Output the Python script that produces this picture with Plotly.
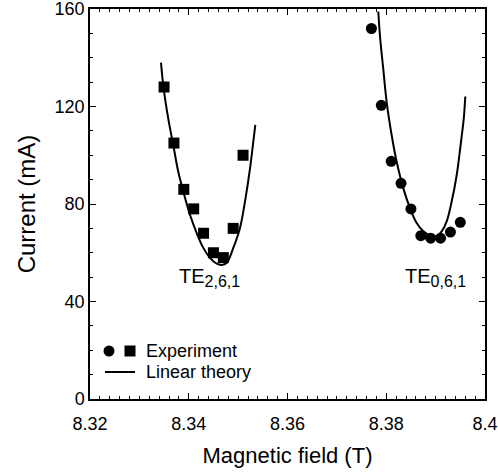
import plotly.graph_objects as go

# Experimental data (Magnetic field in T, current in mA)
field_te261 = [8.335, 8.337, 8.339, 8.341, 8.343, 8.345, 8.347, 8.349, 8.351]
current_te261 = [128, 105, 86, 78, 68, 60, 58, 70, 100]

field_te061 = [8.377, 8.379, 8.381, 8.383, 8.385, 8.387, 8.389, 8.391, 8.393, 8.395]
current_te061 = [152, 120.5, 97.5, 88.5, 78, 67, 66, 66, 68.5, 72.5]

# Linear theory curves
theory_field_261 = [8.33438, 8.33485, 8.33586, 8.33687, 8.33788, 8.33890, 8.34025, 8.34161,
                    8.34295, 8.34430, 8.34566, 8.34667, 8.34769, 8.34902, 8.35038, 8.35139,
                    8.35241, 8.35307, 8.35348]
theory_current_261 = [138.0, 128.5, 114.9, 104.1, 93.2, 85.1, 75.6, 68.1,
                      62.0, 57.9, 55.5, 55.0, 55.9, 62.0, 70.2, 81.0,
                      94.6, 105.5, 112.5]

theory_field_061 = [8.37839, 8.37873, 8.37940, 8.38009, 8.38110, 8.38211, 8.38346, 8.38481,
                    8.38616, 8.38751, 8.38920, 8.39022, 8.39123, 8.39224, 8.39325, 8.39427,
                    8.39514, 8.39569, 8.39601]
theory_current_061 = [159.0, 148.9, 135.3, 121.7, 108.2, 97.3, 86.4, 78.3,
                      72.2, 68.8, 66.8, 66.8, 68.8, 72.9, 81.0, 91.9,
                      105.5, 114.9, 124.1]

mode_labels = ["TE<sub><span style='font-size:16px'>2,6,1</span></sub>",
               "TE<sub><span style='font-size:16px'>0,6,1</span></sub>"]
mode_label_pos = [(8.3443, 50), (8.3899, 50)]

x_ticks = [8.32, 8.34, 8.36, 8.38, 8.40]
x_ticktext = ["8.32", "8.34", "8.36", "8.38", "8.4"]
y_ticks = [0, 40, 80, 120, 160]

FONT = "Liberation Sans, Arial, Helvetica, sans-serif"

fig = go.Figure()

fig.add_trace(go.Scatter(x=theory_field_261, y=theory_current_261, mode="lines",
                         line=dict(color="black", width=2, shape="spline"),
                         showlegend=False, hoverinfo="skip"))
fig.add_trace(go.Scatter(x=theory_field_061, y=theory_current_061, mode="lines",
                         line=dict(color="black", width=2, shape="spline"),
                         showlegend=False, hoverinfo="skip"))
fig.add_trace(go.Scatter(x=field_te261, y=current_te261, mode="markers",
                         marker=dict(symbol="square", size=11, color="black"),
                         showlegend=False))
fig.add_trace(go.Scatter(x=field_te061, y=current_te061, mode="markers",
                         marker=dict(symbol="circle", size=11, color="black"),
                         showlegend=False))

for txt, (xa, ya) in zip(mode_labels, mode_label_pos):
    fig.add_annotation(x=xa, y=ya, text=txt, showarrow=False, xanchor="center",
                       yanchor="middle", font=dict(size=20, color="black", family=FONT))

# Manual legend (layout decoration in paper coordinates)
TOP, BOT, LEFT, RIGHT = 9, 399, 90, 485
PW, PH = float(RIGHT - LEFT), float(BOT - TOP)
def px(xp):
    return (xp - LEFT) / PW
def py(yp):
    return (BOT - yp) / PH

fig.add_shape(type="circle", xref="paper", yref="paper", xsizemode="pixel", ysizemode="pixel",
              xanchor=px(109), yanchor=py(351), x0=-5.5, x1=5.5, y0=-5.5, y1=5.5,
              fillcolor="black", line=dict(width=0))
fig.add_shape(type="rect", xref="paper", yref="paper", xsizemode="pixel", ysizemode="pixel",
              xanchor=px(130), yanchor=py(351), x0=-5.5, x1=5.5, y0=-5.5, y1=5.5,
              fillcolor="black", line=dict(width=0))
fig.add_shape(type="line", xref="paper", yref="paper", x0=px(105), x1=px(135),
              y0=py(372), y1=py(372), line=dict(color="black", width=2))
fig.add_annotation(xref="paper", yref="paper", x=px(144), y=py(351), text="Experiment",
                   showarrow=False, xanchor="left", yanchor="middle",
                   font=dict(size=18, color="black", family=FONT))
fig.add_annotation(xref="paper", yref="paper", x=px(144), y=py(372), text="Linear theory",
                   showarrow=False, xanchor="left", yanchor="middle",
                   font=dict(size=18, color="black", family=FONT))

axis_common = dict(showline=True, linecolor="black", linewidth=1.5, mirror="allticks",
                   ticks="inside", ticklen=6, tickwidth=1.2, tickcolor="black",
                   showgrid=False, zeroline=False, ticklabeloverflow="allow",
                   automargin=False,
                   tickfont=dict(size=18, color="black", family=FONT))

fig.update_xaxes(range=[8.32, 8.40], tickvals=x_ticks, ticktext=x_ticktext,
                 ticklabelstandoff=8,
                 minor=dict(dtick=0.002, ticks="inside", ticklen=3, tickcolor="black", tickwidth=1),
                 title=dict(text="Magnetic field (T)", font=dict(size=22, color="black", family=FONT),
                            standoff=14),
                 **axis_common)
fig.update_yaxes(range=[0, 160], tickvals=y_ticks,
                 minor=dict(dtick=10, ticks="inside", ticklen=3, tickcolor="black", tickwidth=1),
                 title=dict(text="Current (mA)", font=dict(size=24, color="black", family=FONT),
                            standoff=12),
                 **axis_common)

fig.update_layout(width=498, height=472, margin=dict(l=LEFT, r=498 - RIGHT, t=TOP, b=472 - BOT),
                  plot_bgcolor="white", paper_bgcolor="white",
                  font=dict(family=FONT, color="black"), showlegend=False)

fig.write_html("out.html")
